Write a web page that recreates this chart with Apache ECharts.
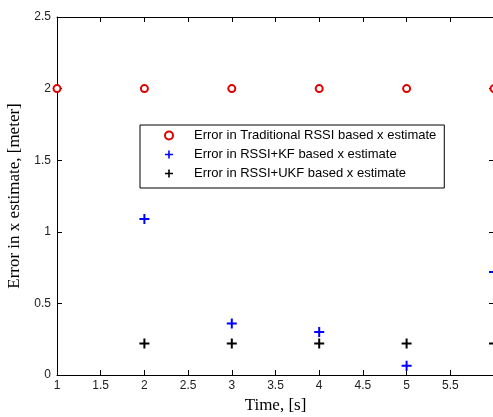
<!DOCTYPE html>
<html>
<head>
<meta charset="utf-8">
<script src="https://cdn.jsdelivr.net/npm/echarts@6/dist/echarts.min.js"></script>
<style>
html,body{margin:0;padding:0;background:#fff;}
#chart{width:493px;height:417px;}
</style>
</head>
<body>
<div id="chart"></div>
<script>
const timeValues = [1, 2, 3, 4, 5, 6];
const errTraditional = [2, 2, 2, 2, 2, 2];
const errKF = [null, 1.09, 0.36, 0.30, 0.065, 0.72];
const errUKF = [null, 0.22, 0.22, 0.22, 0.22, 0.22];
const seriesNames = [
  'Error in Traditional RSSI based x estimate',
  'Error in RSSI+KF based x estimate',
  'Error in RSSI+UKF based x estimate'
];
const xTitle = 'Time, [s]';
const yTitle = 'Error in x estimate, [meter]';

function pairs(vals) {
  return timeValues.map((t, i) => vals[i] == null ? null : [t, vals[i]]).filter(p => p);
}

const plus = 'path://M4,0H6V4H10V6H6V10H4V6H0V4H4Z';
const labelStyle = { color: '#222', fontFamily: 'Liberation Sans, Arial', fontSize: 12 };
const lineStyle = { color: '#000', width: 1 };

const chart = echarts.init(document.getElementById('chart'), null, { renderer: 'canvas' });
chart.setOption({
  animation: false,
  backgroundColor: '#fff',
  grid: { left: 57, top: 17, width: 437, height: 358, containLabel: false, outerBoundsMode: 'none' },
  legend: {
    orient: 'vertical',
    left: 140, top: 125,
    backgroundColor: '#fff',
    borderColor: '#000', borderWidth: 1,
    padding: [4, 8, 8, 24],
    itemWidth: 8, itemHeight: 8, itemGap: 6,
    textStyle: { color: '#000', fontFamily: 'Liberation Sans, Arial', fontSize: 13, padding: [0, 0, 0, 16] },
    data: seriesNames
  },
  xAxis: [{
    type: 'value', min: 1, max: 6, interval: 0.5,
    name: xTitle, nameLocation: 'middle', nameGap: 17,
    nameTextStyle: { fontFamily: 'Liberation Serif, Times New Roman', fontSize: 17, color: '#000' },
    axisLine: { show: true, onZero: false, lineStyle: lineStyle },
    axisTick: { inside: true, length: 5, lineStyle: lineStyle },
    axisLabel: Object.assign({ margin: 5, showMaxLabel: false }, labelStyle),
    splitLine: { show: false }
  }, {
    type: 'value', min: 1, max: 6, interval: 0.5, position: 'top',
    axisLine: { show: true, onZero: false, lineStyle: lineStyle },
    axisTick: { show: true, inside: true, length: 5, lineStyle: lineStyle },
    axisLabel: { show: false }, splitLine: { show: false }
  }],
  yAxis: [{
    type: 'value', min: 0, max: 2.5, interval: 0.5,
    name: yTitle, nameLocation: 'middle', nameGap: 26,
    nameTextStyle: { fontFamily: 'Liberation Serif, Times New Roman', fontSize: 17, color: '#000' },
    axisLine: { show: true, onZero: false, lineStyle: lineStyle },
    axisTick: { show: true, inside: true, length: 5, lineStyle: lineStyle },
    axisLabel: Object.assign({ margin: 6 }, labelStyle),
    splitLine: { show: false }
  }, {
    type: 'value', min: 0, max: 2.5, interval: 0.5, position: 'right',
    axisLine: { show: true, onZero: false, lineStyle: lineStyle },
    axisTick: { show: true, inside: true, length: 5, lineStyle: lineStyle },
    axisLabel: { show: false }, splitLine: { show: false }
  }],
  series: [{
    name: seriesNames[0], type: 'scatter', data: pairs(errTraditional),
    symbol: 'emptyCircle', symbolSize: 7,
    itemStyle: { color: '#e00000', borderColor: '#e00000', borderWidth: 2, opacity: 1 }
  }, {
    name: seriesNames[1], type: 'scatter', data: pairs(errKF),
    symbol: plus, symbolSize: 10,
    itemStyle: { color: '#0000ff', opacity: 1 }
  }, {
    name: seriesNames[2], type: 'scatter', data: pairs(errUKF),
    symbol: plus, symbolSize: 10,
    itemStyle: { color: '#000', opacity: 1 }
  }]
});
</script>
</body>
</html>
